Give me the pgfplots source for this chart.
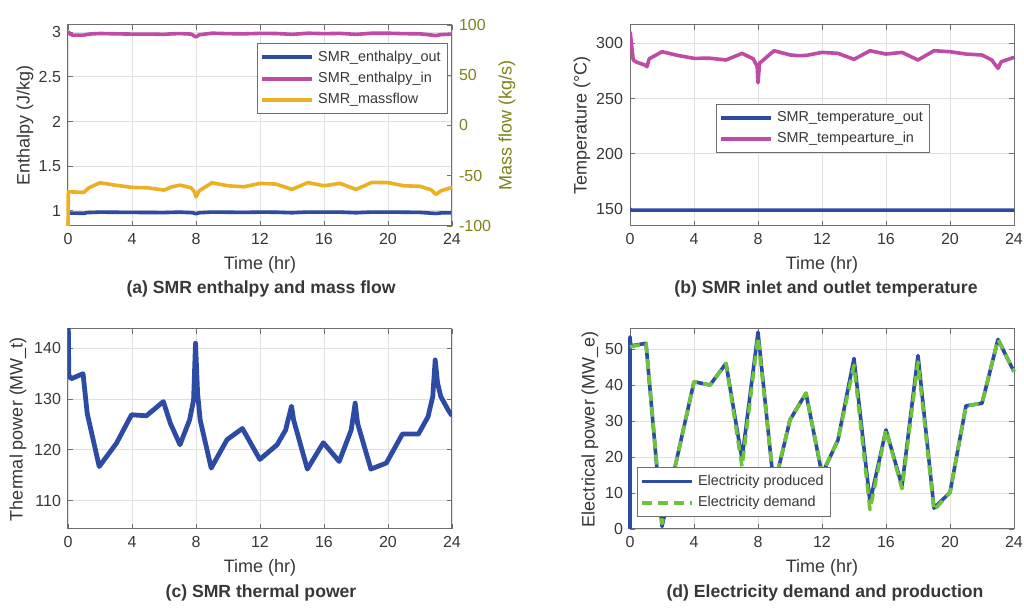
\documentclass[border=0pt]{standalone}
\usepackage{fontspec}
\setmainfont{Liberation Sans}
\usepackage{pgfplots}
\pgfplotsset{compat=1.18}
\definecolor{axgray}{RGB}{110,110,110}
\definecolor{txtgray}{RGB}{55,55,55}
\definecolor{gridgray}{RGB}{224,224,224}
\definecolor{cblue}{RGB}{45,75,165}
\definecolor{cmag}{RGB}{190,75,165}
\definecolor{corange}{RGB}{236,176,35}
\definecolor{cgreen}{RGB}{110,195,60}
\definecolor{colive}{RGB}{128,128,25}
\pgfplotsset{
 mystyle/.style={
  scale only axis, width=192pt, height=100.5pt,
  xmin=0,xmax=24, xtick={0,4,...,24},
  grid=major, major grid style={gridgray, line width=0.4pt},
  axis line style={axgray, line width=0.5pt},
  tick style={axgray, line width=0.4pt}, major tick length=2.5pt,
  tick label style={font=\fontsize{8}{9}\selectfont, text=txtgray},
  label style={font=\fontsize{9}{10}\selectfont, text=txtgray},
  xlabel={Time (hr)},
  xlabel style={at={(axis description cs:0.5,0)}, anchor=center, yshift=-19.5pt},
  /pgf/number format/assume math mode=true,
  every axis plot/.append style={line join=round},
  legend style={font=\fontsize{7.2}{8.6}\selectfont, text=txtgray, draw=axgray, line width=0.5pt, inner sep=1.5pt},
  legend cell align=left,
  legend image code/.code={\draw[##1] (0pt,0pt) -- (25pt,0pt);},
 }
}
\begin{document}
\begin{tikzpicture}
\path[use as bounding box] (0,0) rectangle (512pt,304.5pt);
% (a) left
\begin{axis}[mystyle, at={(34pt,191.5pt)}, anchor=south west,
  ymin=0.83, ymax=3.08, ytick={1,1.5,2,2.5,3}, ytick pos=left,
  ylabel={Enthalpy (J/kg)},
  ylabel style={at={(axis description cs:0,0.5)}, anchor=center, yshift=21.5pt},
  legend style={at={(0.99,0.91)}, anchor=north east},
  ]
\addplot[cblue, line width=1.8pt] coordinates {(0,0.975)(1,0.972)(1.2,0.98)(2,0.985)(4,0.982)(6,0.98)(7,0.985)(7.8,0.978)(8,0.968)(8.2,0.978)(9,0.986)(11,0.982)(12,0.985)(13,0.984)(14,0.978)(15,0.986)(17,0.985)(18,0.978)(19,0.986)(20,0.986)(22,0.982)(23,0.97)(23.3,0.976)(24,0.978)};
\addlegendentry{SMR\_enthalpy\_out}
\addplot[cmag, line width=1.8pt] coordinates {(0,3.007)(0.15,2.975)(0.3,2.966)(1,2.966)(1.3,2.978)(2,2.985)(3,2.981)(4,2.978)(5,2.978)(6,2.975)(6.5,2.981)(7,2.984)(7.7,2.978)(8,2.946)(8.2,2.97)(9,2.988)(10,2.983)(11,2.981)(12,2.986)(13,2.985)(14,2.975)(15,2.988)(16,2.983)(17,2.986)(18,2.975)(19,2.988)(20,2.988)(21,2.983)(22,2.981)(23,2.962)(23.3,2.972)(24,2.978)};
\addlegendentry{SMR\_enthalpy\_in}
\addlegendimage{corange, line width=1.8pt}
\addlegendentry{SMR\_massflow}
\node[anchor=south west, inner sep=0pt, font=\fontsize{7}{8}\selectfont, text=txtgray] at (rel axis cs:0.01,1.015) {×10\textsuperscript{6}};
\end{axis}
% (a) right
\begin{axis}[mystyle, at={(34pt,191.5pt)}, anchor=south west,
  axis x line=none, axis y line*=right, grid=none, xlabel={}, clip=false,
  ymin=-100, ymax=100, ytick={-100,-50,0,50,100},
  axis line style={colive, line width=0.5pt}, tick style={colive},
  yticklabel style={text=colive},
  ylabel={Mass flow (kg/s)},
  ylabel style={at={(axis description cs:1,0.5)}, anchor=center, yshift=-27.5pt, text=colive},
  ]
\addplot[corange, line width=1.8pt] coordinates {(0,-100)(0.02,-66)(1,-66.5)(1.3,-62)(2,-57)(3,-59.5)(4,-61.6)(5,-62)(6,-64.3)(6.5,-61)(7,-59.3)(7.7,-62)(7.9,-66)(8,-71)(8.2,-65)(9,-57)(10,-60)(11,-61)(12,-57.6)(13,-58.3)(14,-63.6)(15,-56.8)(16,-60)(17,-57.6)(18,-63.6)(19,-56.6)(20,-56.8)(21,-60)(22,-60.5)(22.7,-64)(23,-68.6)(23.3,-65)(24,-61.6)};
\end{axis}
% (b)
\begin{axis}[mystyle, at={(315pt,191.5pt)}, anchor=south west,
  ymin=134.6, ymax=316.6, ytick={150,200,250,300},
  ylabel={Temperature (°C)},
  ylabel style={at={(axis description cs:0,0.5)}, anchor=center, yshift=24pt},
  legend style={at={(0.224,0.607)}, anchor=north west},
  ]
\addplot[cblue, line width=1.8pt] coordinates {(0,150)(0.1,149)(24,149)};
\addlegendentry{SMR\_temperature\_out}
\addplot[cmag, line width=1.8pt] coordinates {(0,310.5)(0.05,305)(0.2,285)(0.4,283)(0.94,280.3)(1.06,278.8)(1.2,286)(2,292.4)(3,289)(4,286.4)(5,286.5)(6,284.9)(7,290.9)(7.7,286)(7.95,279)(8,264.3)(8.1,282)(9,293.3)(10,289.5)(10.5,288.8)(11,289)(12,291.8)(13,290.9)(14,285.5)(15,293.3)(16,290.3)(17,291.8)(18,284.9)(19,293.3)(20,292.4)(21,290.3)(22,289.4)(22.6,285)(23,277.4)(23.2,283.3)(24,287.3)};
\addlegendentry{SMR\_tempearture\_in}
\end{axis}
% (c)
\begin{axis}[mystyle, at={(34pt,40pt)}, anchor=south west, height=100pt,
  ymin=104.4, ymax=143.8, ytick={110,120,130,140},
  ylabel={Thermal power (MW\_t)},
  ylabel style={at={(axis description cs:0,0.5)}, anchor=center, yshift=25pt},
  ]
\addplot[cblue, line width=2.4pt] coordinates {(0,150)(0.05,134.7)(0.2,134)(0.94,135)(1.2,127.2)(1.95,116.7)(3.03,121.3)(3.97,126.9)(4.9,126.7)(5.96,129.5)(6.4,125.2)(7.0,121)(7.6,125.9)(7.85,129.8)(7.97,141)(8.1,131.1)(8.26,125.9)(8.95,116.4)(9.94,122)(10.9,124.2)(11.99,118.1)(13.07,121)(13.6,123.9)(13.97,128.6)(14.1,125.9)(14.96,116.2)(15.96,121.4)(16.95,117.7)(17.7,123.9)(17.95,129.2)(18.1,125.2)(18.93,116.2)(19.9,117.4)(20.9,123.1)(21.9,123.1)(22.5,126.5)(22.8,130.5)(22.95,137.7)(23.1,133.1)(23.3,130.5)(23.75,127.9)(24,126.7)};
\end{axis}
% (d)
\begin{axis}[mystyle, at={(315pt,40pt)}, anchor=south west, height=100pt, clip=false,
  ymin=0, ymax=55.7, ytick={0,10,...,50},
  ylabel={Electrical power (MW\_e)},
  ylabel style={at={(axis description cs:0,0.5)}, anchor=center, yshift=20pt},
  legend style={at={(0.018,0.06)}, anchor=south west},
  ]
\addplot[cblue, line width=1.8pt] coordinates {(0,0)(0,53.5)(0.05,51)(1,51.7)(2,0.7)(3,21)(4,41)(5,40.1)(6,46.1)(7,19.5)(8,54.8)(9,11.5)(10,30.4)(11,37.8)(12,15.2)(13,24.8)(14,47.5)(15,7.5)(16,27.6)(17,12)(18,48.3)(19,5.8)(20,10.2)(21,34.3)(22,35)(23,52.8)(24,43.8)};
\addlegendentry{Electricity produced}
\addplot[cgreen, line width=1.8pt, dash pattern=on 5pt off 3pt] coordinates {(0,50.7)(1,51.7)(2,1.5)(3,21)(4,41)(5,40.1)(6,46.1)(7,17.4)(8,53.5)(9,12)(10,30.4)(11,37.8)(12,15.5)(13,24.8)(14,45.6)(15,5.4)(16,27.6)(17,11.2)(18,46.5)(19,5.2)(20,10.2)(21,34.3)(22,35)(23,52.8)(24,43.8)};
\addlegendentry{Electricity demand}
\end{axis}
% captions
\node[font=\bfseries\fontsize{8.8}{10}\selectfont, text=txtgray] at (130.5pt,160pt) {(a) SMR enthalpy and mass flow};
\node[font=\bfseries\fontsize{8.8}{10}\selectfont, text=txtgray] at (413pt,160pt) {(b) SMR inlet and outlet temperature};
\node[font=\bfseries\fontsize{8.8}{10}\selectfont, text=txtgray] at (130.5pt,8pt) {(c) SMR thermal power};
\node[font=\bfseries\fontsize{8.8}{10}\selectfont, text=txtgray] at (412.5pt,8pt) {(d) Electricity demand and production};
\end{tikzpicture}
\end{document}
